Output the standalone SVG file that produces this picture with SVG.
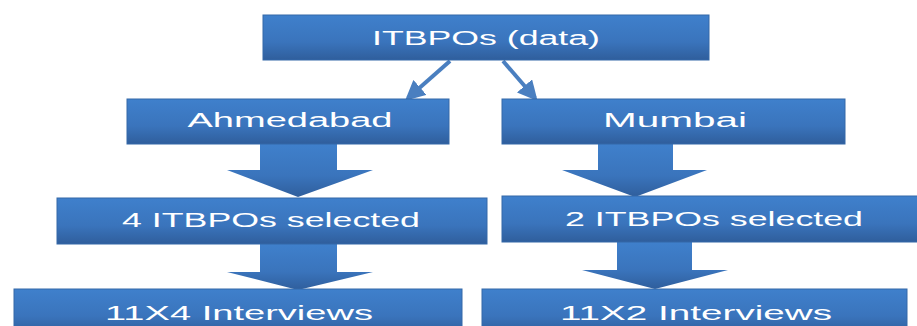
<svg xmlns="http://www.w3.org/2000/svg" width="917" height="326" viewBox="0 0 917 326">
<defs>
<linearGradient id="g" x1="0" y1="0" x2="0" y2="1">
<stop offset="0" stop-color="#3F80CC"/>
<stop offset="0.6" stop-color="#3A74BC"/>
<stop offset="1" stop-color="#2F5E9C"/>
</linearGradient>
<marker id="ah" markerWidth="5" markerHeight="5" refX="4" refY="2.5" orient="auto" markerUnits="strokeWidth">
<path d="M0,0 L5,2.5 L0,5 Z" fill="#4A7FC0"/>
</marker>
</defs>
<style>
.box{fill:url(#g);stroke:#3468A8;stroke-width:1}
.t{fill:#fff;font-family:"Liberation Sans",Arial,sans-serif;font-size:20px;text-anchor:middle}
.blk{fill:url(#g)}
.ln{stroke:#4A7FC0;stroke-width:4;fill:none}
</style>
<g id="connectors">
<line class="ln" x1="450" y1="61" x2="408" y2="98" marker-end="url(#ah)"/>
<line class="ln" x1="503" y1="61" x2="535" y2="98" marker-end="url(#ah)"/>
<path class="blk" d="M260,144 L337,144 L337,170 L373,170 L298,197 L227,170 L260,170 Z"/>
<path class="blk" d="M260,244 L337,244 L337,272 L373,272 L298,290 L227,272 L260,272 Z"/>
<path class="blk" d="M598,144 L673,144 L673,170 L707,170 L635,197 L562,170 L598,170 Z"/>
<path class="blk" d="M617,242 L692,242 L692,270 L728,270 L655,289 L582,270 L617,270 Z"/>
</g>
<g id="n1"><rect class="box" x="263" y="15" width="446" height="45"/><text class="t" x="486" y="45" textLength="228" lengthAdjust="spacingAndGlyphs">ITBPOs (data)</text></g>
<g id="n2"><rect class="box" x="127" y="99" width="322" height="45"/><text class="t" x="290" y="127" textLength="205" lengthAdjust="spacingAndGlyphs">Ahmedabad</text></g>
<g id="n3"><rect class="box" x="502" y="99" width="343" height="45"/><text class="t" x="675" y="127" textLength="144" lengthAdjust="spacingAndGlyphs">Mumbai</text></g>
<g id="n4"><rect class="box" x="57" y="198" width="430" height="46"/><text class="t" x="271" y="227" textLength="298" lengthAdjust="spacingAndGlyphs">4 ITBPOs selected</text></g>
<g id="n5"><rect class="box" x="502" y="196" width="420" height="46"/><text class="t" x="714" y="226" textLength="298" lengthAdjust="spacingAndGlyphs">2 ITBPOs selected</text></g>
<g id="n6"><rect class="box" x="14" y="289" width="448" height="45"/><text class="t" x="239" y="320" textLength="268" lengthAdjust="spacingAndGlyphs">11X4 Interviews</text></g>
<g id="n7"><rect class="box" x="482" y="289" width="425" height="45"/><text class="t" x="696" y="320" textLength="272" lengthAdjust="spacingAndGlyphs">11X2 Interviews</text></g>
</svg>
